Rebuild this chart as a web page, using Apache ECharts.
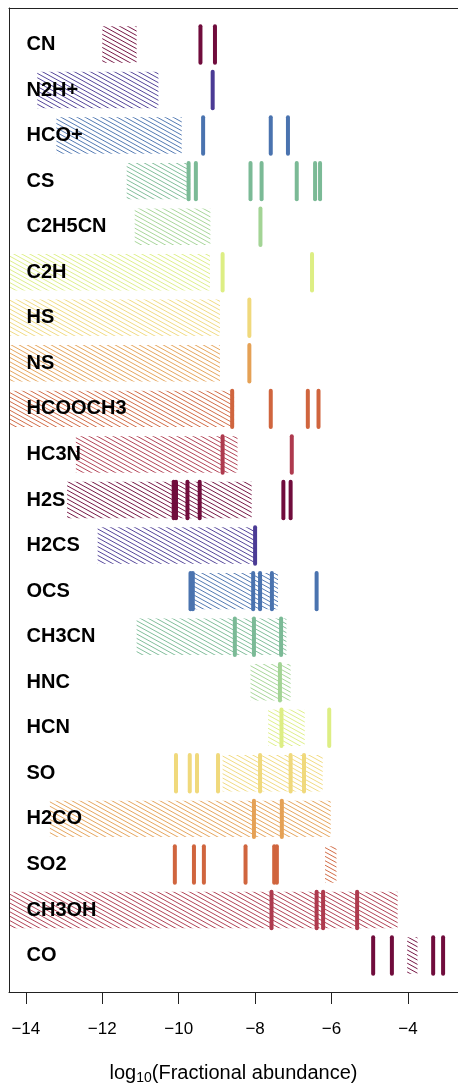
<!DOCTYPE html>
<html><head><meta charset="utf-8">
<script src="https://cdn.jsdelivr.net/npm/echarts@6/dist/echarts.min.js"></script>
<style>html,body{margin:0;padding:0;background:#fff}#c{width:458px;height:1084px}</style>
</head><body><div id="c"></div>
<script>
// Species, top to bottom
const species = ['CN','N2H+','HCO+','CS','C2H5CN','C2H','HS','NS','HCOOCH3','HC3N','H2S','H2CS','OCS','CH3CN','HNC','HCN','SO','H2CO','SO2','CH3OH','CO'];
// Model ranges (hatched boxes), log10 abundance
const rangeLow  = [-12.0,-13.70,-13.20,-11.36,-11.15,-14.5,-14.5,-14.5,-14.5,-12.69,-12.92,-12.12,-9.66,-11.10,-8.12,-7.66,-8.85,-13.37,-6.17,-14.5,-4.02];
const rangeHigh = [-11.10,-10.53,-9.92,-9.70,-9.17,-9.18,-8.92,-8.92,-8.55,-8.46,-8.09,-7.96,-7.40,-7.18,-7.07,-6.70,-6.23,-6.02,-5.87,-4.27,-3.75];
// Observed values (vertical bars)
const observed = [
  [-9.43,-9.05],
  [-9.11],
  [-9.36,-7.59,-7.14],
  [-9.74,-9.55,-8.12,-7.83,-6.91,-6.43,-6.30],
  [-7.86],
  [-8.85,-6.51],
  [-8.15],
  [-8.15],
  [-8.60,-7.59,-6.62,-6.34],
  [-8.85,-7.04],
  [-10.13,-10.07,-9.77,-9.45,-7.26,-7.07],
  [-8.00],
  [-9.69,-9.63,-8.05,-7.87,-7.56,-6.39],
  [-8.53,-8.03,-7.32],
  [-7.35],
  [-7.31,-6.06],
  [-10.07,-9.71,-9.52,-8.97,-7.87,-7.07,-6.72],
  [-8.03,-7.30],
  [-10.10,-9.60,-9.34,-8.25,-7.50,-7.43],
  [-7.57,-6.39,-6.22,-5.33],
  [-4.91,-4.42,-3.34,-3.08]
];
const xTicks = [-14,-12,-10,-8,-6,-4];
const palette = ['#700c3c','#4b3b95','#4a73af','#7bba96','#a3d495','#ddee84','#f0d97c','#e5a155','#d0653e','#ae3a4e'];

function makePattern(color){
  const W = 40, H = 22, c = document.createElement('canvas');
  c.width = W; c.height = H;
  const g = c.getContext('2d');
  g.strokeStyle = color; g.lineWidth = 1; g.globalAlpha = 0.95;
  for (let k = -7; k <= 7; k++){
    g.beginPath(); g.moveTo(0, 4.4*k); g.lineTo(W, 4.4*k + H); g.stroke();
  }
  return {image: c, repeat: 'repeat'};
}
const patterns = palette.map(makePattern);

const rangeData = species.map((s,i)=>[i+1, rangeLow[i], rangeHigh[i]]);
const obsData = [];
observed.forEach((arr,i)=>arr.forEach(v=>obsData.push([i+1, v])));

const font = 'Liberation Sans, Arial, sans-serif';
const chart = echarts.init(document.getElementById('c'), null, {renderer:'canvas'});
chart.setOption({
  animation: false,
  backgroundColor: '#fff',
  grid: {left: 9, right: 0, top: 8, bottom: 92, show: false, containLabel: false, outerBoundsMode: 'none'},
  xAxis: [{
    type: 'value', min: -14.44, max: -2.69, position: 'bottom',
    axisLine: {show: true, onZero: false, lineStyle: {color: '#222', width: 1}},
    splitLine: {show: false},
    axisTick: {show: true, customValues: xTicks, length: 12, lineStyle: {color: '#222'}},
    axisLabel: {show: true, customValues: xTicks, margin: 29, fontSize: 17, color: '#000', fontFamily: font,
      formatter: v => String(v).replace('-', '\u2212')},
    name: '{a|log}{b|10}{a|(Fractional abundance)}',
    nameLocation: 'middle', nameGap: 70,
    nameTextStyle: {rich: {
      a: {fontSize: 20, color: '#000', fontFamily: font},
      b: {fontSize: 14, color: '#000', fontFamily: font, verticalAlign: 'bottom', padding: [9,0,0,0]}
    }}
  }, {
    type: 'value', min: -14.44, max: -2.69, position: 'top',
    axisLine: {show: true, onZero: false, lineStyle: {color: '#222', width: 1}},
    axisTick: {show: false}, axisLabel: {show: false}, splitLine: {show: false}
  }],
  yAxis: {
    type: 'value', min: 0.2, max: 21.8, inverse: true, z: 10, position: 'left',
    axisLine: {show: true, onZero: false, lineStyle: {color: '#222', width: 1}},
    axisTick: {show: false}, splitLine: {show: false},
    axisLabel: {show: true, inside: true, margin: 17.5, customValues: species.map((s,i)=>i+1),
      formatter: v => species[Math.round(v)-1] || '',
      fontSize: 20, fontWeight: 'bold', color: '#000', fontFamily: font}
  },
  series: [
    {
      type: 'custom', data: rangeData, z: 2,
      encode: {x: [1,2], y: 0},
      renderItem: (params, api) => {
        const y = api.value(0), lo = api.value(1), hi = api.value(2);
        const p0 = api.coord([lo, y - 0.4]), p1 = api.coord([hi, y + 0.4]);
        const cs = params.coordSys;
        const r = echarts.graphic.clipRectByRect(
          {x: Math.min(p0[0],p1[0]), y: Math.min(p0[1],p1[1]), width: Math.abs(p1[0]-p0[0]), height: Math.abs(p1[1]-p0[1])},
          {x: cs.x, y: cs.y, width: cs.width, height: cs.height});
        if (!r) return null;
        return {type: 'rect', shape: r, style: {fill: patterns[(y-1) % 10], stroke: null}};
      }
    },
    {
      type: 'custom', data: obsData, z: 3,
      encode: {x: 1, y: 0},
      renderItem: (params, api) => {
        const y = api.value(0), x = api.value(1);
        const p0 = api.coord([x, y - 0.4]), p1 = api.coord([x, y + 0.4]);
        return {type: 'line', shape: {x1: p0[0], y1: p0[1], x2: p1[0], y2: p1[1]},
          style: {stroke: palette[(y-1) % 10], lineWidth: 4, lineCap: 'round'}};
      }
    }
  ]
});
</script>
</body></html>
